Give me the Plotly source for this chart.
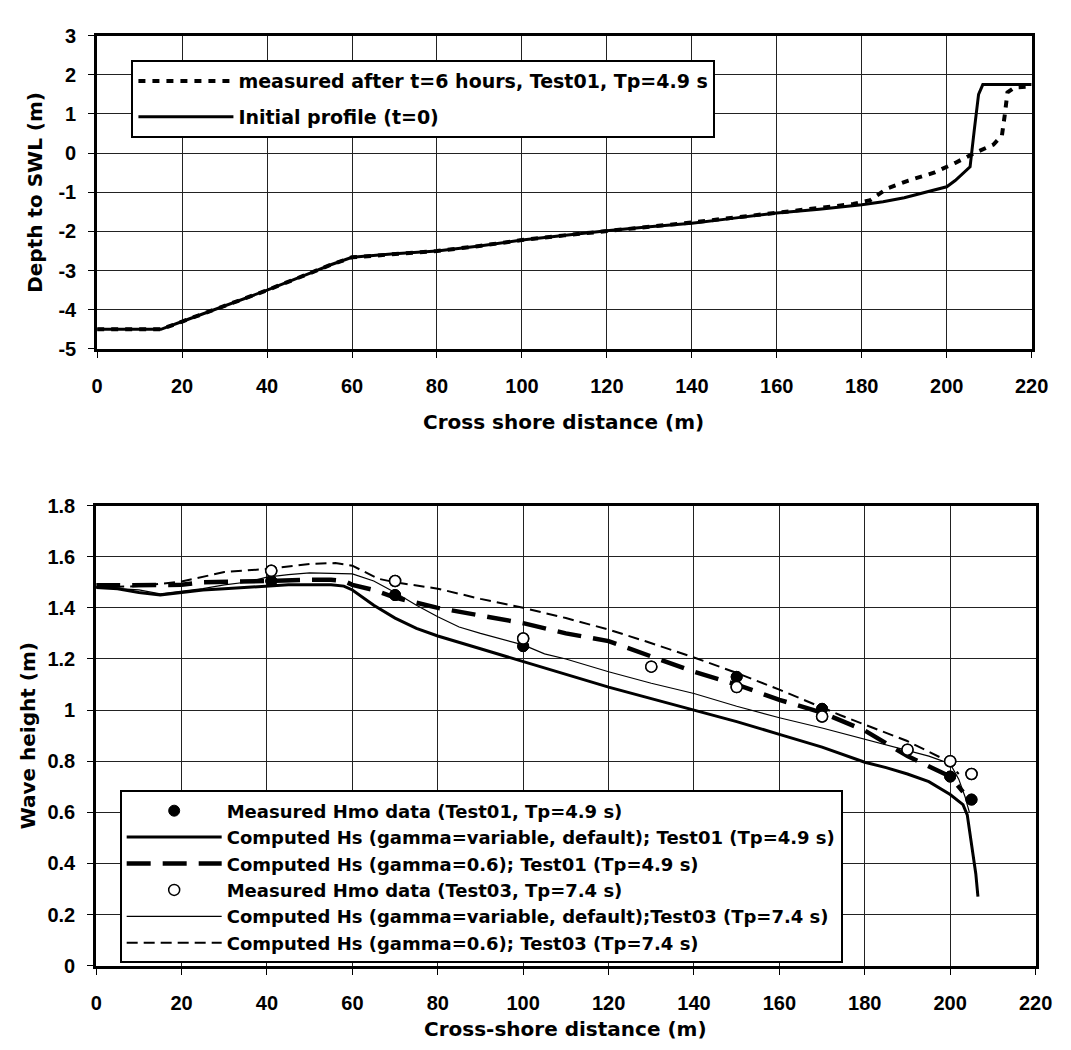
import plotly.graph_objects as go

# ---------------- Top panel: beach profiles ----------------
x_initial = [0, 15, 20, 30, 40, 50, 55, 60, 70, 80, 90, 100, 110, 120, 130, 140, 150, 160, 170, 180,
             185, 190, 195, 200, 202, 204, 205.5, 206.5, 207.5, 208.5, 220]
y_initial = [-4.5, -4.5, -4.3, -3.9, -3.5, -3.07, -2.85, -2.66, -2.57, -2.5, -2.37, -2.22, -2.1, -1.98,
             -1.88, -1.79, -1.66, -1.53, -1.43, -1.32, -1.24, -1.14, -1.0, -0.86, -0.7, -0.5, -0.35,
             0.6, 1.5, 1.75, 1.75]

x_measured = [0, 15, 20, 30, 40, 50, 55, 60, 70, 80, 90, 100, 110, 120, 130, 140, 150, 160, 170, 178,
              182, 186, 191, 197, 202, 206.5, 211, 213, 213.7, 214.3, 216, 220]
y_measured = [-4.5, -4.5, -4.3, -3.9, -3.5, -3.07, -2.85, -2.66, -2.57, -2.5, -2.37, -2.22, -2.1, -1.98,
              -1.88, -1.77, -1.65, -1.52, -1.42, -1.3, -1.2, -0.9, -0.7, -0.5, -0.25, 0.0, 0.22, 0.45,
              1.0, 1.55, 1.68, 1.7]

top_yticks = [-5, -4, -3, -2, -1, 0, 1, 2, 3]
top_yticktext = ["-5", "-4", "-3", "-2", "-1", "0", "1", "2", "3"]

# ---------------- Bottom panel: wave heights ----------------
x_hs01_var = [0, 5, 10, 15, 20, 25, 30, 35, 40, 45, 50, 55, 58, 60, 65, 70, 75, 80, 90, 100, 110, 120,
              130, 140, 150, 160, 170, 180, 185, 190, 195, 200, 202, 203, 204, 205, 206, 206.5]
y_hs01_var = [1.48, 1.475, 1.46, 1.45, 1.46, 1.47, 1.475, 1.48, 1.485, 1.49, 1.49, 1.49, 1.485, 1.47,
              1.41, 1.36, 1.32, 1.29, 1.24, 1.19, 1.14, 1.09, 1.045, 1.0, 0.955, 0.905, 0.855, 0.796,
              0.775, 0.75, 0.72, 0.67, 0.645, 0.63, 0.59, 0.48, 0.36, 0.27]

x_hs01_06 = [0, 10, 20, 25, 30, 40, 50, 55, 58, 60, 65, 70, 75, 80, 90, 100, 110, 120, 130, 140, 150,
             160, 170, 180, 190, 200, 203]
y_hs01_06 = [1.488, 1.488, 1.49, 1.5, 1.503, 1.505, 1.51, 1.51, 1.505, 1.49, 1.47, 1.44, 1.42, 1.4,
             1.37, 1.34, 1.3, 1.27, 1.21, 1.15, 1.1, 1.04, 0.99, 0.92, 0.82, 0.74, 0.68]

x_hs03_var = [0, 10, 15, 20, 25, 30, 35, 40, 45, 50, 55, 60, 65, 70, 75, 80, 85, 90, 100, 105, 110,
              120, 130, 140, 150, 160, 170, 180, 190, 195, 200, 202, 203.5, 204.5]
y_hs03_var = [1.48, 1.47, 1.455, 1.465, 1.475, 1.49, 1.5, 1.52, 1.53, 1.537, 1.535, 1.533, 1.505,
              1.46, 1.41, 1.365, 1.325, 1.3, 1.255, 1.22, 1.2, 1.15, 1.105, 1.065, 1.015, 0.97, 0.93,
              0.886, 0.84, 0.82, 0.79, 0.73, 0.66, 0.6]

x_hs03_06 = [0, 10, 20, 30, 40, 50, 56, 60, 66, 70, 80, 90, 100, 110, 120, 128.5, 140, 149.4, 160,
             174.3, 189.8, 199.5, 202]
y_hs03_06 = [1.48, 1.485, 1.503, 1.54, 1.552, 1.572, 1.575, 1.565, 1.514, 1.5, 1.475, 1.435, 1.4,
             1.36, 1.315, 1.27, 1.206, 1.149, 1.08, 0.98, 0.88, 0.8, 0.75]

x_meas01 = [41, 70, 100, 150, 170, 200, 205]
y_meas01 = [1.505, 1.45, 1.25, 1.13, 1.005, 0.74, 0.65]

x_meas03 = [41, 70, 100, 130, 150, 170, 190, 200, 205]
y_meas03 = [1.545, 1.505, 1.28, 1.17, 1.09, 0.975, 0.845, 0.8, 0.75]

FONT = "Liberation Sans, Arial, sans-serif"
WIDE = "DejaVu Sans, Liberation Sans, sans-serif"
W, H = 1071, 1050

fig = go.Figure()

# top panel traces
fig.add_trace(go.Scatter(x=x_initial, y=y_initial, mode="lines", name="Initial profile (t=0)",
                         line=dict(color="black", width=3), xaxis="x", yaxis="y",
                         legend="legend", legendrank=2, legendgroup="a"))
fig.add_trace(go.Scatter(x=x_measured, y=y_measured, mode="lines",
                         name="measured after t=6 hours, Test01, Tp=4.9 s",
                         line=dict(color="black", width=4, dash="7px,7px"), xaxis="x", yaxis="y",
                         legend="legend", legendrank=1, legendgroup="b"))

# bottom panel traces
fig.add_trace(go.Scatter(x=x_meas01, y=y_meas01, mode="markers",
                         name="Measured Hmo data (Test01, Tp=4.9 s)",
                         marker=dict(color="black", size=11, line=dict(color="black", width=1)),
                         xaxis="x2", yaxis="y2", legend="legend2", legendrank=1, legendgroup="c1"))
fig.add_trace(go.Scatter(x=x_hs01_var, y=y_hs01_var, mode="lines",
                         name="Computed Hs (gamma=variable, default); Test01 (Tp=4.9 s)",
                         line=dict(color="black", width=3), xaxis="x2", yaxis="y2",
                         legend="legend2", legendrank=2, legendgroup="c2"))
fig.add_trace(go.Scatter(x=x_hs01_06, y=y_hs01_06, mode="lines",
                         name="Computed Hs (gamma=0.6); Test01 (Tp=4.9 s)",
                         line=dict(color="black", width=4.5, dash="24px,12px"), xaxis="x2", yaxis="y2",
                         legend="legend2", legendrank=3, legendgroup="c3"))
fig.add_trace(go.Scatter(x=x_meas03, y=y_meas03, mode="markers",
                         name="Measured Hmo data (Test03, Tp=7.4 s)",
                         marker=dict(color="white", size=11, line=dict(color="black", width=1.5)),
                         xaxis="x2", yaxis="y2", legend="legend2", legendrank=4, legendgroup="c4"))
fig.add_trace(go.Scatter(x=x_hs03_var, y=y_hs03_var, mode="lines",
                         name="Computed Hs (gamma=variable, default);Test03 (Tp=7.4 s)",
                         line=dict(color="black", width=1.2), xaxis="x2", yaxis="y2",
                         legend="legend2", legendrank=5, legendgroup="c5"))
fig.add_trace(go.Scatter(x=x_hs03_06, y=y_hs03_06, mode="lines",
                         name="Computed Hs (gamma=0.6); Test03 (Tp=7.4 s)",
                         line=dict(color="black", width=2, dash="11px,6px"), xaxis="x2", yaxis="y2",
                         legend="legend2", legendrank=6, legendgroup="c6"))
# redraw markers on top of lines (not in legend)
fig.add_trace(go.Scatter(x=x_meas01, y=y_meas01, mode="markers", showlegend=False, hoverinfo="skip",
                         marker=dict(color="black", size=11, line=dict(color="black", width=1)),
                         xaxis="x2", yaxis="y2"))
fig.add_trace(go.Scatter(x=x_meas03, y=y_meas03, mode="markers", showlegend=False, hoverinfo="skip",
                         marker=dict(color="white", size=11, line=dict(color="black", width=1.5)),
                         xaxis="x2", yaxis="y2"))

tickfont = dict(family=FONT, size=20, color="black", weight="bold")
axis_common = dict(showline=True, linecolor="black", linewidth=3, mirror=True,
                   showgrid=True, gridcolor="#222", gridwidth=1, zeroline=False,
                   ticks="outside", ticklen=6, tickcolor="black", tickwidth=1,
                   tickfont=tickfont, fixedrange=True)

def px_x(p):
    return p / W

def px_y(p):
    return 1 - p / H

fig.update_layout(
    width=W, height=H, autosize=False,
    margin=dict(l=0, r=0, t=0, b=0),
    paper_bgcolor="white", plot_bgcolor="white",
    font=dict(family=FONT, color="black"),
    xaxis=dict(domain=[px_x(85), px_x(1040)], range=[0, 220], dtick=20, tick0=0, anchor="y",
               ticklabelstandoff=11, **axis_common),
    yaxis=dict(domain=[px_y(337), px_y(17)], range=[-5, 3], tickvals=top_yticks,
               ticktext=top_yticktext, anchor="x", ticklabelstandoff=8, **axis_common),
    xaxis2=dict(domain=[px_x(84), px_x(1044)], range=[0, 220], dtick=20, tick0=0, anchor="y2",
                ticklabelstandoff=11, **axis_common),
    yaxis2=dict(domain=[px_y(967), px_y(497)], range=[0, 1.8], dtick=0.2, tick0=0, anchor="x2",
                ticklabelstandoff=8, **axis_common),
    legend=dict(x=px_x(120), y=px_y(42), xanchor="left", yanchor="top",
                bgcolor="white", bordercolor="black", borderwidth=2,
                font=dict(family=WIDE, size=19, color="black", weight="bold"),
                itemwidth=95, traceorder="grouped", tracegroupgap=8, itemclick=False),
    legend2=dict(x=px_x(108), y=px_y(788), xanchor="left", yanchor="top",
                 bgcolor="white", bordercolor="black", borderwidth=2,
                 font=dict(family=WIDE, size=18, color="black", weight="bold"),
                 itemwidth=95, traceorder="grouped", tracegroupgap=0, itemclick=False),
    showlegend=True,
)

title_font = dict(family=WIDE, size=20, color="black", weight="bold")
annotations = [
    dict(text="Cross shore distance (m)", x=px_x(562), y=px_y(412)),
    dict(text="Cross-shore distance (m)", x=px_x(564), y=px_y(1032)),
    dict(text="Depth to SWL (m)", x=px_x(22), y=px_y(177), textangle=-90),
    dict(text="Wave height (m)", x=px_x(14), y=px_y(732), textangle=-90),
]
for a in annotations:
    fig.add_annotation(xref="paper", yref="paper", showarrow=False, xanchor="center",
                       yanchor="middle", font=title_font, **a)

fig.write_html("out.html")
